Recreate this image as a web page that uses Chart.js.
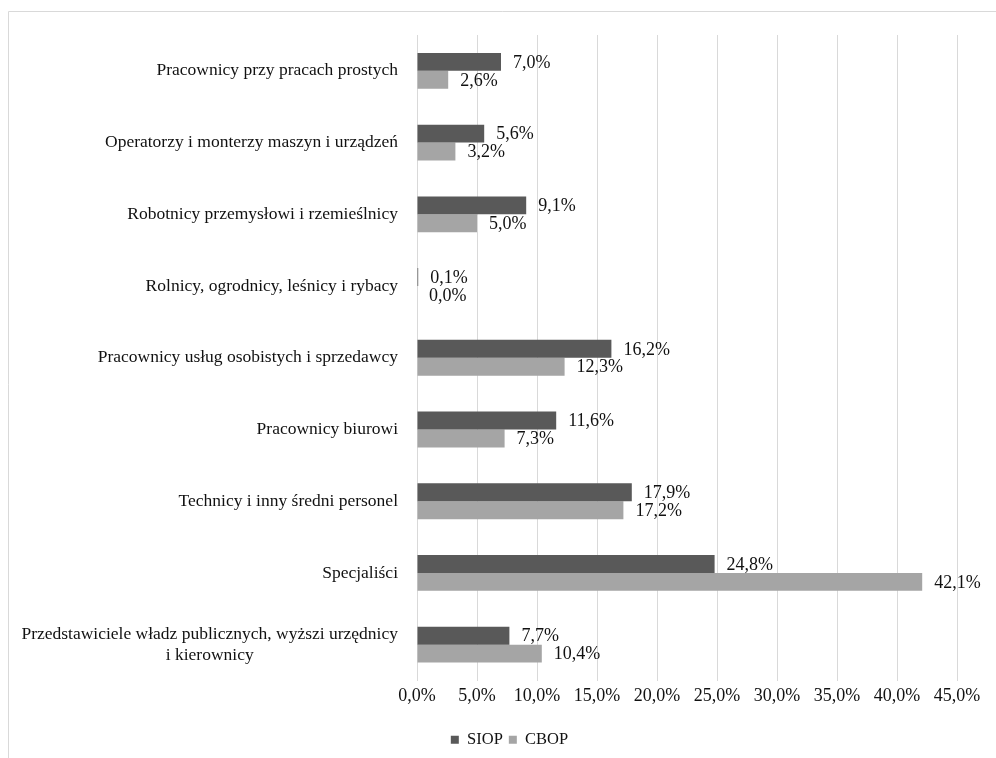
<!DOCTYPE html>
<html>
<head>
<meta charset="utf-8">
<script src="https://cdn.jsdelivr.net/npm/chart.js@4"></script>
<style>
  html, body { margin: 0; padding: 0; background: #fff; }
  #wrap { position: relative; width: 996px; height: 758px; }
</style>
</head>
<body>
<div id="wrap"><canvas id="chart"></canvas></div>
<script>
const categories = [
    'Pracownicy przy pracach prostych',
    'Operatorzy i monterzy maszyn i urządzeń',
    'Robotnicy przemysłowi i rzemieślnicy',
    'Rolnicy, ogrodnicy, leśnicy i rybacy',
    'Pracownicy usług osobistych i sprzedawcy',
    'Pracownicy biurowi',
    'Technicy i inny średni personel',
    'Specjaliści',
    ['Przedstawiciele władz publicznych, wyższi urzędnicy', 'i kierownicy']
];

const siopValues = [7.0, 5.6, 9.1, 0.1, 16.2, 11.6, 17.9, 24.8, 7.7];
const cbopValues = [2.6, 3.2, 5.0, 0.0, 12.3, 7.3, 17.2, 42.1, 10.4];

const seriesNames = ['SIOP', 'CBOP'];
const seriesColors = ['#595959', '#a5a5a5'];

const FONT = "'Liberation Serif', 'Times New Roman', serif";
const PAD_LEFT = 62;

Chart.defaults.font.family = FONT;
Chart.defaults.font.size = 18;
Chart.defaults.color = '#000';

function formatPercent(v) {
    return v.toFixed(1).replace('.', ',') + '%';
}

// light frame round the chart, like the exported picture
const framePlugin = {
    id: 'frame',
    beforeDraw(chart) {
        const ctx = chart.ctx;
        ctx.save();
        ctx.strokeStyle = '#d9d9d9';
        ctx.lineWidth = 1;
        ctx.beginPath();
        ctx.moveTo(8.5, chart.height);
        ctx.lineTo(8.5, 11.5);
        ctx.lineTo(chart.width, 11.5);
        ctx.stroke();
        ctx.restore();
    }
};

// value labels at the end of each bar
const valueLabels = {
    id: 'valueLabels',
    afterDatasetsDraw(chart) {
        const ctx = chart.ctx;
        ctx.save();
        ctx.font = `18px ${FONT}`;
        ctx.fillStyle = '#111';
        ctx.textAlign = 'left';
        ctx.textBaseline = 'middle';
        chart.data.datasets.forEach((ds, i) => {
            chart.getDatasetMeta(i).data.forEach((bar, j) => {
                ctx.fillText(formatPercent(ds.data[j]), bar.x + 12, bar.y + 1);
            });
        });
        ctx.restore();
    }
};

// category labels: right aligned block, wrapped lines centred inside it
const categoryLabels = {
    id: 'categoryLabels',
    afterDraw(chart) {
        const ctx = chart.ctx;
        const yScale = chart.scales.y;
        const right = chart.chartArea.left - 19;
        const lineHeight = 21;
        ctx.save();
        ctx.font = `17.5px ${FONT}`;
        ctx.fillStyle = '#111';
        ctx.textAlign = 'center';
        ctx.textBaseline = 'middle';
        chart.data.labels.forEach((label, i) => {
            const lines = Array.isArray(label) ? label : [label];
            const blockWidth = Math.max(...lines.map(l => ctx.measureText(l).width));
            const cx = right - blockWidth / 2;
            const cy = yScale.getPixelForValue(i);
            const top = cy - (lines.length - 1) * lineHeight / 2;
            lines.forEach((line, k) => {
                ctx.fillText(line, cx, top + k * lineHeight);
            });
        });
        ctx.restore();
    }
};

new Chart(document.getElementById('chart'), {
    type: 'bar',
    data: {
        labels: categories,
        datasets: [
            {
                label: seriesNames[0],
                data: siopValues,
                backgroundColor: seriesColors[0],
                borderWidth: 0
            },
            {
                label: seriesNames[1],
                data: cbopValues,
                backgroundColor: seriesColors[1],
                borderWidth: 0
            }
        ]
    },
    options: {
        indexAxis: 'y',
        responsive: true,
        maintainAspectRatio: false,
        animation: false,
        layout: {
            padding: { top: 35, right: 39, left: PAD_LEFT, bottom: 0 }
        },
        datasets: {
            bar: {
                categoryPercentage: 0.5,
                barPercentage: 1.0
            }
        },
        scales: {
            x: {
                min: 0,
                max: 45,
                ticks: {
                    stepSize: 5,
                    padding: 5,
                    color: '#111',
                    callback: v => formatPercent(v)
                },
                grid: {
                    color: '#d9d9d9',
                    drawTicks: false
                },
                border: { display: false },
                afterFit: scale => { scale.height = 45; }
            },
            y: {
                ticks: { display: false },
                grid: { display: false },
                border: { display: false },
                afterFit: scale => { scale.width = 417 - PAD_LEFT; }
            }
        },
        plugins: {
            legend: {
                position: 'bottom',
                labels: {
                    boxWidth: 8,
                    boxHeight: 8,
                    padding: 6,
                    color: '#111',
                    font: { size: 16.5 }
                }
            },
            tooltip: { enabled: false }
        }
    },
    plugins: [framePlugin, valueLabels, categoryLabels]
});
</script>
</body>
</html>
